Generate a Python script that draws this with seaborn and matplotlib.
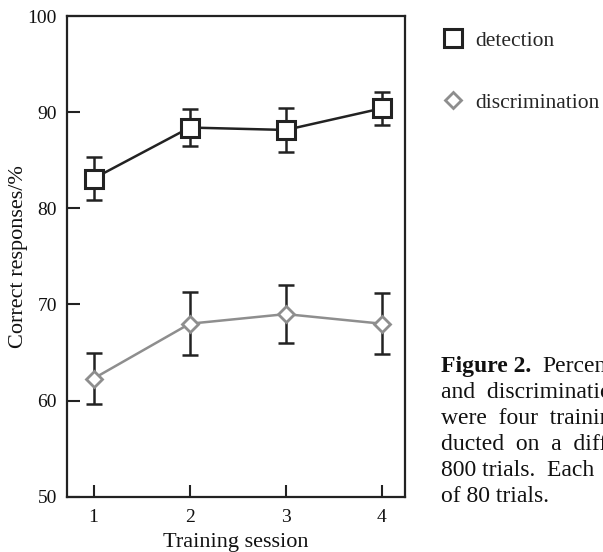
import matplotlib
matplotlib.use("Agg")
import matplotlib.pyplot as plt
from matplotlib.lines import Line2D
import pandas as pd
import seaborn as sns

# values
sessions = [1, 2, 3, 4]
detection = [83.1, 88.4, 88.15, 90.4]
detection_err = [2.2, 1.9, 2.3, 1.7]
discrimination = [62.3, 68.0, 69.0, 68.0]
discrimination_err = [2.7, 3.3, 3.0, 3.2]

caption_lines = [
    "Percentage",
    "and  discrimination",
    "were  four  training",
    "ducted  on  a  different",
    "800 trials.  Each",
    "of 80 trials.",
]

df = pd.DataFrame({
    "session": sessions * 2,
    "value": detection + discrimination,
    "err": detection_err + discrimination_err,
    "task": ["detection"] * 4 + ["discrimination"] * 4,
})

sns.set_theme(style="ticks")
plt.rcParams["font.family"] = ["Liberation Serif", "DejaVu Serif"]

dark = "#222222"
grey = "#8e8e8e"
txt = "#111111"

fig = plt.figure(figsize=(6.03, 5.52), dpi=100)
ax = fig.add_axes([0.1106, 0.1, 0.561, 0.871])

# error bars first, so the white markers sit on top
for task in ["detection", "discrimination"]:
    d = df[df["task"] == task]
    ax.errorbar(d["session"], d["value"], yerr=d["err"], fmt="none",
                ecolor=dark, elinewidth=1.8, capsize=6, capthick=1.8, zorder=1)

sns.lineplot(data=df[df["task"] == "detection"], x="session", y="value",
             color=dark, lw=1.8, marker="s", markersize=13,
             markerfacecolor="white", markeredgecolor=dark, markeredgewidth=2.2,
             ax=ax, zorder=3)
sns.lineplot(data=df[df["task"] == "discrimination"], x="session", y="value",
             color=grey, lw=1.8, marker="D", markersize=8.5,
             markerfacecolor="white", markeredgecolor=grey, markeredgewidth=2,
             ax=ax, zorder=3)

ax.set_xlim(0.72, 4.24)
ax.set_ylim(50, 100)
ax.set_xticks(sessions)
ax.set_yticks([50, 60, 70, 80, 90, 100])
ax.tick_params(direction="in", length=9, width=1.5, labelsize=14, color=dark,
               labelcolor=txt)
ax.tick_params(axis="y", pad=7)
ax.tick_params(axis="x", pad=9)
for s in ax.spines.values():
    s.set_linewidth(1.6)
    s.set_color(dark)
    s.set_visible(True)

ax.set_xlabel("Training session", fontsize=16, color=txt, labelpad=5)
ax.set_ylabel("Correct responses/%", fontsize=16, color=txt, labelpad=0)

handles = [
    Line2D([], [], ls="none", marker="s", markersize=13, markerfacecolor="white",
           markeredgecolor=dark, markeredgewidth=2.2),
    Line2D([], [], ls="none", marker="D", markersize=8, markerfacecolor="white",
           markeredgecolor=grey, markeredgewidth=2),
]
ax.legend(handles, ["detection", "discrimination"], loc="upper left",
          bbox_to_anchor=(1.06, 1.005), frameon=False, fontsize=15.5,
          handlelength=1.0, handletextpad=0.5, labelspacing=1.95,
          borderaxespad=0.4)

# caption, cut off by the right edge as in the source page
fig.text(441 / 603, 1 - 371.7 / 552, "Figure 2.", fontsize=17, weight="bold",
         color=txt, va="baseline")
fig.text(542 / 603, 1 - 371.7 / 552, caption_lines[0], fontsize=17,
         color=txt, va="baseline")
for i, line in enumerate(caption_lines[1:], start=1):
    fig.text(441 / 603, 1 - (371.7 + 26 * i) / 552, line, fontsize=17,
             color=txt, va="baseline")

fig.savefig("out.png", dpi=100)
